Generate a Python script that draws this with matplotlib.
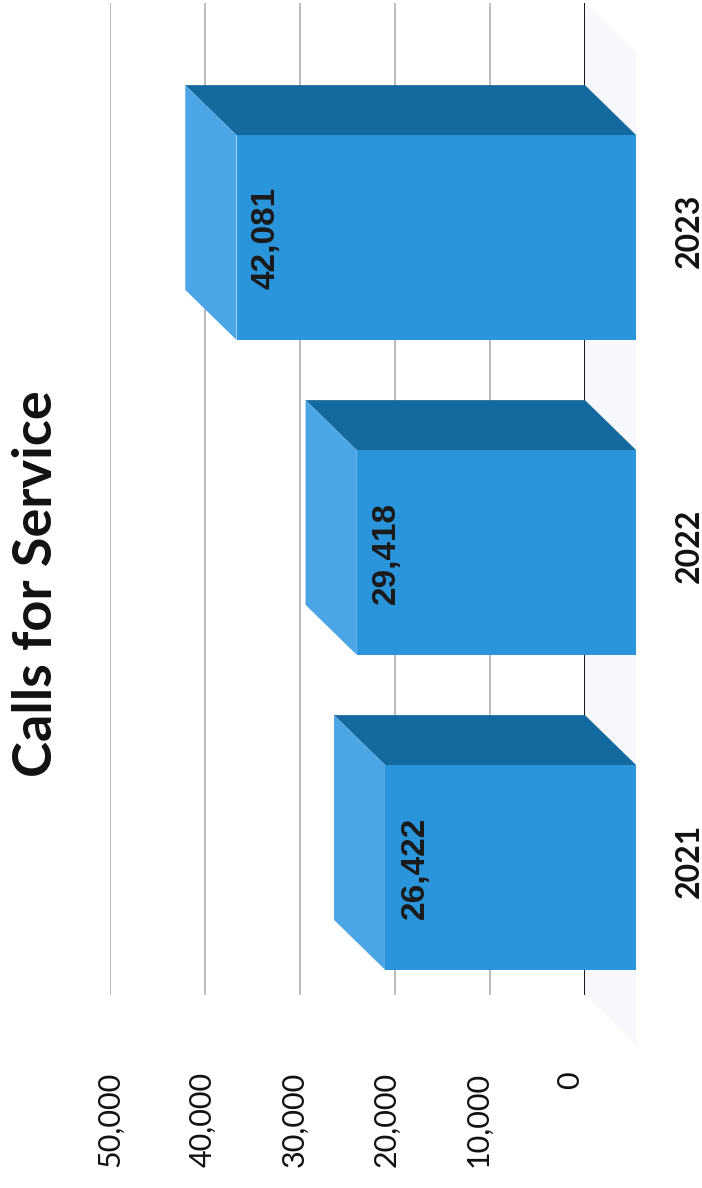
import matplotlib.pyplot as plt
from matplotlib.patches import Polygon, Rectangle

years = ["2021", "2022", "2023"]
calls = [26422, 29418, 42081]
value_ticks = [0, 10000, 20000, 30000, 40000, 50000]
tick_text = ["0", "10,000", "20,000", "30,000", "40,000", "50,000"]

FRONT = "#2b95db"
SIDE = "#14699e"
END = "#4ca6e6"
FLOOR = "#f6f8fb"

# 3D depth of the boxes, in data units (value axis / category axis)
DEPTH_X = 5400
DEPTH_Y = 0.159
BAR_H = 0.65

fig = plt.figure(figsize=(7.02, 11.88), dpi=100)

# chart drawn sideways: value axis runs right-to-left, years bottom-to-top
ax = fig.add_axes([110 / 702, 193 / 1188, 475 / 702, 992 / 1188])
ax.set_xlim(50000, 0)
ax.set_ylim(-0.5635, 2.5857)
for spine in ax.spines.values():
    spine.set_visible(False)
ax.set_xticks([])
ax.set_yticks([])

y0, y1 = ax.get_ylim()

# floor of the 3D plot
ax.add_patch(Polygon([(0, y1), (-DEPTH_X, y1 - DEPTH_Y), (-DEPTH_X, y0 - DEPTH_Y), (0, y0)],
                     closed=True, facecolor=FLOOR, edgecolor="none", clip_on=False, zorder=0))

# back wall gridlines
for v in value_ticks[1:]:
    ax.axvline(v, color="#a8a8a8", lw=1.1, zorder=1)
ax.axvline(0, color="black", lw=2, zorder=1)

for i, (yr, v) in enumerate(zip(years, calls)):
    top = i + BAR_H / 2
    bot = i - BAR_H / 2
    # upper side face
    ax.add_patch(Polygon([(0, top), (v, top), (v - DEPTH_X, top - DEPTH_Y), (-DEPTH_X, top - DEPTH_Y)],
                         closed=True, facecolor=SIDE, edgecolor="none", clip_on=False, zorder=3))
    # end face (top of the bar)
    ax.add_patch(Polygon([(v, top), (v, bot), (v - DEPTH_X, bot - DEPTH_Y), (v - DEPTH_X, top - DEPTH_Y)],
                         closed=True, facecolor=END, edgecolor="none", clip_on=False, zorder=3))
    # front face
    ax.add_patch(Rectangle((-DEPTH_X, bot - DEPTH_Y), v, BAR_H,
                           facecolor=FRONT, edgecolor="none", clip_on=False, zorder=4))
    # value label
    ax.text(v - DEPTH_X - 3150, i - DEPTH_Y, f"{v:,}", rotation=90, ha="center", va="center",
            fontsize=24, fontweight="bold", family="Liberation Sans", color="#1a1a1a", zorder=5)
    # category label
    ax.text(-11000, i - DEPTH_Y + 0.02, yr, rotation=90, ha="center", va="center",
            fontsize=23, fontweight="bold", family="Lato", color="#111111", clip_on=False)

# value axis labels sit on the front plane, slightly narrower spacing
lab = fig.add_axes([110 / 702, 193 / 1188, 460 / 702, 992 / 1188])
lab.patch.set_visible(False)
for spine in lab.spines.values():
    spine.set_visible(False)
lab.set_xlim(50000, 0)
lab.set_yticks([])
lab.set_xticks(value_ticks)
lab.set_xticklabels(tick_text, rotation=90, fontsize=22, family="Lato", color="#111111")
lab.tick_params(axis="x", length=0, pad=55)

fig.text(37 / 702, 1 - 584 / 1188, "Calls for Service", rotation=90, ha="center", va="center",
         fontsize=39, fontweight="bold", family="Lato", color="#111111")

fig.savefig("out.png", dpi=100)
